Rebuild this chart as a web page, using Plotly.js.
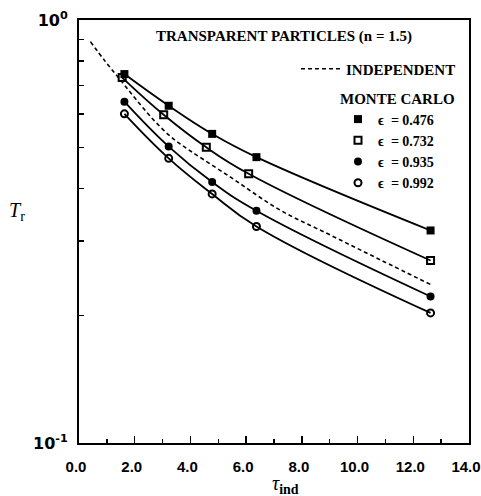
<!DOCTYPE html>
<html>
<head>
<meta charset="utf-8">
<script src="https://cdn.plot.ly/plotly-3.0.1.min.js"></script>
<style>
  html, body { margin: 0; padding: 0; background: #fff; }
  #chart { width: 481px; height: 496px; }
</style>
</head>
<body>
<div id="chart"></div>
<script>
// Optical thickness (independent scattering) at which each Monte Carlo run was made
const tauMC = [1.63, 3.22, 4.78, 6.37, 12.62];
const tauMC732 = [1.55, 3.04, 4.57, 6.09, 12.62];

// Transmittance T_r from Monte Carlo simulations, per emissivity/packing case
const tr476 = [0.745, 0.627, 0.538, 0.474, 0.318];
const tr732 = [0.731, 0.597, 0.500, 0.433, 0.270];
const tr935 = [0.641, 0.502, 0.414, 0.354, 0.222];
const tr992 = [0.600, 0.471, 0.388, 0.325, 0.203];

// Independent-scattering prediction
const tauIndep = [0.41, 0.95, 1.49, 2.03, 2.62, 3.22, 3.64, 5.44, 7.23, 9.03, 10.82, 12.62];
const trIndep = [0.889, 0.797, 0.721, 0.651, 0.586, 0.535, 0.509, 0.425, 0.355, 0.310, 0.271, 0.237];

// Legend / tick labels
const seriesNames = ['\u03f5  = 0.476', '\u03f5  = 0.732', '\u03f5  = 0.935', '\u03f5  = 0.992'];
const yTickVals = [0.1, 1.0];
const yTickText = ['10<sup>-1</sup>', '10<sup>0</sup>'];
const yMinorVals = [0.2, 0.3, 0.4, 0.5, 0.6, 0.7, 0.8, 0.9];
const xTickVals = [0, 2, 4, 6, 8, 10, 12, 14];
const xTickText = ['0.0', '2.0', '4.0', '6.0', '8.0', '10.0', '12.0', '14.0'];

const SERIF = '"Liberation Serif", "Times New Roman", serif';
const SANS = '"Liberation Sans", Arial, sans-serif';

// plot-area geometry in pixels, used to place free text in paper units
const PL = 79, PR = 469, PT = 20, PB = 443;
function px2paperX(px) { return (px - PL) / (PR - PL); }
function px2paperY(py) { return (PB - py) / (PB - PT); }

const mcSeries = [
  { x: tauMC,    y: tr476, symbol: 'square' },
  { x: tauMC732, y: tr732, symbol: 'square-open' },
  { x: tauMC,    y: tr935, symbol: 'circle' },
  { x: tauMC,    y: tr992, symbol: 'circle-open' }
];

const traces = [];

traces.push({
  x: tauIndep, y: trIndep,
  type: 'scatter', mode: 'lines',
  name: 'INDEPENDENT',
  line: { color: '#000', width: 1.6, dash: '4px,3px', shape: 'spline', smoothing: 1.0 },
  legend: 'legend',
  hoverinfo: 'skip'
});

mcSeries.forEach(function (s, i) {
  const open = s.symbol.indexOf('open') >= 0;
  // smooth curve through the simulated points
  traces.push({
    x: s.x, y: s.y,
    type: 'scatter', mode: 'lines',
    line: { color: '#000', width: 1.8, shape: 'spline', smoothing: 1.2 },
    showlegend: false,
    hoverinfo: 'skip'
  });
  // the simulated points themselves
  traces.push({
    x: s.x, y: s.y,
    type: 'scatter', mode: 'markers',
    name: seriesNames[i],
    marker: {
      symbol: s.symbol, size: open ? 7 : 8, color: '#000',
      line: { color: '#000', width: open ? 2 : 0 }
    },
    legend: 'legend2',
    legendgroup: 'g' + i
  });
});

const layout = {
  width: 481,
  height: 496,
  margin: { l: PL, r: 481 - PR, t: PT, b: 496 - PB, autoexpand: false },
  paper_bgcolor: '#fff',
  plot_bgcolor: '#fff',
  showlegend: true,
  font: { family: SERIF, color: '#000', size: 15 },
  xaxis: {
    range: [0, 14],
    tickvals: xTickVals,
    ticktext: xTickText,
    ticks: 'inside',
    ticklen: 7,
    tickwidth: 1.5,
    tickcolor: '#000',
    minor: { dtick: 1, ticks: 'inside', ticklen: 4, tickwidth: 1.5, tickcolor: '#000' },
    showline: true,
    linewidth: 2,
    linecolor: '#000',
    mirror: true,
    showgrid: false,
    zeroline: false,
    automargin: false,
    ticklabeloverflow: 'allow',
    ticklabelstandoff: 9,
    ticklabelshift: -3,
    tickfont: { family: SANS, size: 15, color: '#000', weight: 'bold' }
  },
  yaxis: {
    type: 'log',
    range: [-1, 0],
    tickvals: yTickVals,
    ticktext: yTickText,
    ticks: 'inside',
    ticklen: 5,
    tickwidth: 1.5,
    tickcolor: '#000',
    minor: { tickvals: yMinorVals, ticks: 'inside', ticklen: 5, tickwidth: 1.5, tickcolor: '#000', showgrid: false },
    showline: true,
    linewidth: 2,
    linecolor: '#000',
    mirror: true,
    showgrid: false,
    zeroline: false,
    automargin: false,
    ticklabeloverflow: 'allow',
    ticklabelstandoff: 6,
    tickfont: { family: '"DejaVu Sans", sans-serif', size: 16, color: '#000', weight: 'bold' }
  },
  legend: {
    x: px2paperX(296), y: px2paperY(69),
    xanchor: 'left', yanchor: 'middle',
    bgcolor: 'rgba(0,0,0,0)',
    borderwidth: 0,
    itemwidth: 40,
    font: { family: SERIF, size: 15, color: '#000', weight: 'bold' }
  },
  legend2: {
    x: px2paperX(338), y: px2paperY(84),
    xanchor: 'left', yanchor: 'top',
    bgcolor: 'rgba(0,0,0,0)',
    borderwidth: 0,
    itemwidth: 30,
    tracegroupgap: 0,
    title: { text: 'MONTE CARLO', font: { family: SERIF, size: 15, color: '#000', weight: 'bold' } },
    font: { family: SERIF, size: 14, color: '#000', weight: 'bold' }
  },
  annotations: [
    {
      text: '<b>TRANSPARENT PARTICLES (n = 1.5)</b>',
      xref: 'paper', yref: 'paper',
      x: px2paperX(284), y: px2paperY(37),
      xanchor: 'center', yanchor: 'middle',
      showarrow: false,
      font: { family: SERIF, size: 15, color: '#000' }
    },
    {
      text: '<i>\u03c4</i><sub><b>ind</b></sub>',
      xref: 'paper', yref: 'paper',
      x: px2paperX(285), y: px2paperY(485),
      xanchor: 'center', yanchor: 'middle',
      showarrow: false,
      font: { family: SERIF, size: 20, color: '#000' }
    },
    {
      text: '<i>T</i><sub>r</sub>',
      xref: 'paper', yref: 'paper',
      x: px2paperX(17), y: px2paperY(211),
      xanchor: 'center', yanchor: 'middle',
      showarrow: false,
      font: { family: SERIF, size: 20, color: '#000' }
    }
  ]
};

Plotly.newPlot('chart', traces, layout, { displayModeBar: false, staticPlot: true });
</script>
</body>
</html>
